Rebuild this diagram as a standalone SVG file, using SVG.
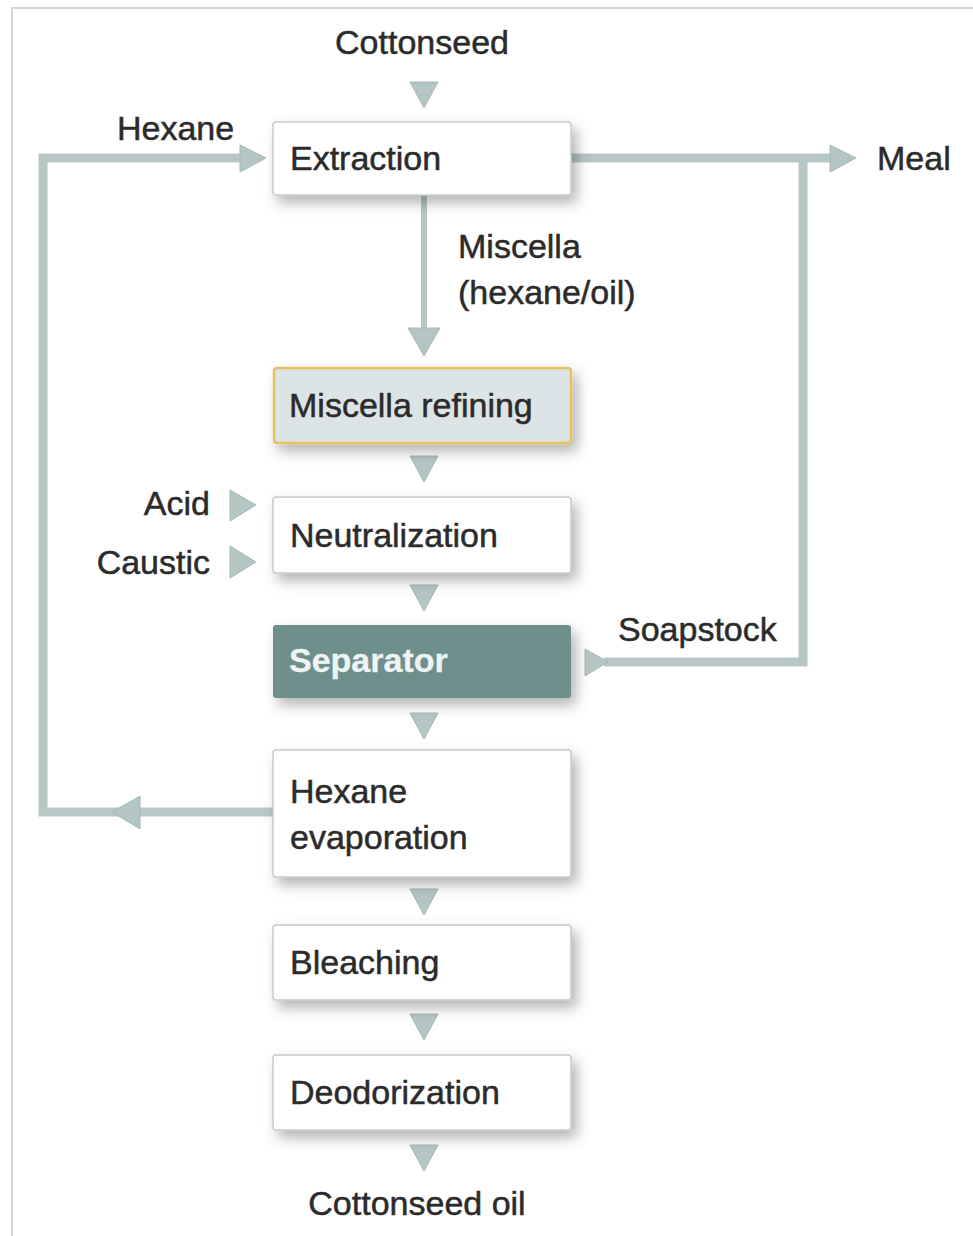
<svg xmlns="http://www.w3.org/2000/svg" width="973" height="1236" viewBox="0 0 973 1236">
<defs>
<style>
text{font-family:"Liberation Sans",Arial,sans-serif;font-size:34px;fill:#2b2b2b;stroke:#2b2b2b;stroke-width:0.5}
.box{fill:#ffffff;stroke:#c3cacb;stroke-width:1.5}
.tri{fill:#b4c6c4;stroke:#a6b9b7;stroke-width:1}
.line{fill:none;stroke:#b6c7c5;stroke-width:9}
</style>
<filter id="sh" x="-20%" y="-30%" width="150%" height="180%">
<feDropShadow dx="5" dy="7" stdDeviation="7" flood-color="#000" flood-opacity="0.3"/>
</filter>
</defs>
<rect width="973" height="1236" fill="#ffffff"/>
<path d="M12 1236 V8 H973" fill="none" stroke="#d3d9d9" stroke-width="2"/>

<g id="connectors">
<polyline class="line" points="273,812 43,812 43,158 242,158"/>
<polygon class="tri" points="240,145 266,158 240,172"/>
<polygon class="tri" points="140,796 112,812 140,829"/>
<line class="line" x1="571" y1="158" x2="832" y2="158"/>
<polygon class="tri" points="830,145 856,158 830,172"/>
<polyline class="line" points="604,662 803,662 803,158"/>
<polygon class="tri" points="585,649 608,662 585,676"/>
<line x1="424" y1="195" x2="424" y2="335" stroke="#b6c7c5" stroke-width="6"/>
<polygon class="tri" points="408,328 440,328 424,356"/>
<polygon class="tri" points="410,82 438,82 424,108"/>
<polygon class="tri" points="410,456 438,456 424,482"/>
<polygon class="tri" points="410,585 438,585 424,611"/>
<polygon class="tri" points="410,713 438,713 424,739"/>
<polygon class="tri" points="410,889 438,889 424,915"/>
<polygon class="tri" points="410,1014 438,1014 424,1040"/>
<polygon class="tri" points="410,1145 438,1145 424,1171"/>
<polygon class="tri" points="230,490 256,505 230,521"/>
<polygon class="tri" points="230,546 256,562 230,578"/>
</g>

<g id="labels">
<text x="422" y="54" text-anchor="middle">Cottonseed</text>
<text x="117" y="140">Hexane</text>
<text x="877" y="170">Meal</text>
<text x="458" y="258">Miscella</text>
<text x="458" y="304">(hexane/oil)</text>
<text x="210" y="515" text-anchor="end">Acid</text>
<text x="210" y="574" text-anchor="end">Caustic</text>
<text x="618" y="641">Soapstock</text>
<text x="417" y="1215" text-anchor="middle">Cottonseed oil</text>
</g>

<g id="extraction">
<rect class="box" x="273" y="122" width="298" height="73" rx="3" filter="url(#sh)"/>
<text x="290" y="170">Extraction</text>
</g>
<g id="miscella-refining">
<rect x="274" y="368" width="297" height="75" rx="3" fill="#dde4e6" stroke="#e5c35c" stroke-width="2.5" filter="url(#sh)"/>
<text x="289" y="417">Miscella refining</text>
</g>
<g id="neutralization">
<rect class="box" x="273" y="497" width="298" height="76" rx="3" filter="url(#sh)"/>
<text x="290" y="547">Neutralization</text>
</g>
<g id="separator">
<rect x="273" y="625" width="298" height="73" rx="3" fill="#6e8f8c" filter="url(#sh)"/>
<text x="289" y="672" style="fill:#eef3f3;stroke:#eef3f3;font-weight:bold;stroke-width:0.3">Separator</text>
</g>
<g id="hexane-evaporation">
<rect class="box" x="273" y="750" width="298" height="127" rx="3" filter="url(#sh)"/>
<text x="290" y="803">Hexane</text>
<text x="290" y="849">evaporation</text>
</g>
<g id="bleaching">
<rect class="box" x="273" y="925" width="298" height="75" rx="3" filter="url(#sh)"/>
<text x="290" y="974">Bleaching</text>
</g>
<g id="deodorization">
<rect class="box" x="273" y="1055" width="298" height="75" rx="3" filter="url(#sh)"/>
<text x="290" y="1104">Deodorization</text>
</g>
</svg>
